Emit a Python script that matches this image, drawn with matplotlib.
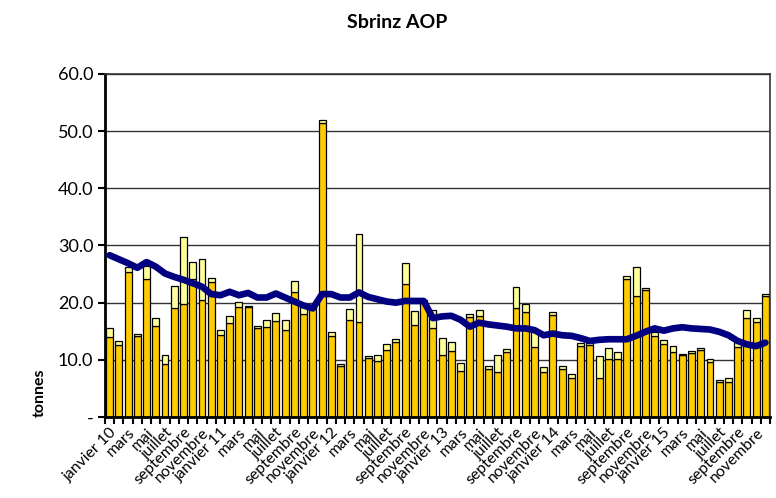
import matplotlib
matplotlib.use("Agg")
import matplotlib.pyplot as plt
import numpy as np

plt.rcParams['font.family'] = ['Lato', 'DejaVu Sans']

month_names = ["janvier", "février", "mars", "avril", "mai", "juin", "juillet",
               "août", "septembre", "octobre", "novembre", "décembre"]
years = ["10", "11", "12", "13", "14", "15"]

# orange (bottom) part of each bar
base = [14.05, 12.6, 25.3, 14.2, 24.1, 16.0, 9.2, 19.0, 19.8, 24.2, 20.4, 23.6,
        14.3, 16.4, 19.2, 19.2, 15.6, 15.8, 16.8, 15.3, 21.8, 18.0, 19.0, 51.5,
        14.1, 9.0, 17.0, 16.7, 10.3, 9.8, 11.8, 13.1, 23.3, 16.1, 20.0, 15.5,
        10.9, 11.6, 8.1, 17.5, 17.6, 8.4, 7.9, 11.3, 19.1, 18.3, 12.3, 7.9,
        17.8, 8.4, 6.9, 12.5, 12.6, 6.8, 10.1, 10.1, 24.1, 21.2, 22.3, 14.2,
        12.8, 11.4, 10.9, 11.2, 11.7, 9.7, 6.1, 6.1, 12.2, 17.3, 16.7, 21.2]
# total bar height
total = [15.6, 13.3, 26.2, 14.5, 26.4, 17.3, 10.8, 22.9, 31.5, 27.2, 27.7, 24.3,
         15.3, 17.7, 20.1, 19.5, 16.0, 17.0, 18.2, 17.0, 23.8, 19.3, 19.5, 52.0,
         14.9, 9.3, 18.9, 32.0, 10.7, 10.9, 12.8, 13.6, 27.0, 18.6, 20.5, 18.8,
         13.9, 13.2, 9.4, 18.1, 18.8, 9.0, 10.8, 11.9, 22.8, 19.8, 14.8, 8.7,
         18.3, 8.9, 7.6, 13.0, 12.9, 10.7, 12.0, 11.3, 24.7, 26.2, 22.6, 14.9,
         13.5, 12.5, 11.1, 11.5, 12.0, 10.2, 6.4, 6.8, 13.2, 18.8, 17.3, 21.6]
# moving average line
avg = [28.3, 27.6, 26.9, 26.1, 27.1, 26.3, 25.1, 24.5, 24.0, 23.4, 22.8, 21.5,
       21.3, 21.9, 21.3, 21.7, 20.9, 20.9, 21.6, 20.9, 20.2, 19.5, 19.0, 21.5,
       21.5, 20.9, 20.9, 21.8, 21.0, 20.6, 20.2, 20.0, 20.3, 20.3, 20.3, 17.3,
       17.6, 17.7, 17.0, 15.8, 16.5, 16.2, 16.0, 15.8, 15.5, 15.5, 15.2, 14.3,
       14.6, 14.3, 14.2, 13.8, 13.3, 13.5, 13.6, 13.6, 13.6, 14.2, 14.9, 15.5,
       15.1, 15.5, 15.7, 15.5, 15.4, 15.3, 14.9, 14.3, 13.3, 12.7, 12.4, 13.0]

labels = []
for y in years:
    for i, m in enumerate(month_names):
        labels.append(f"{m} {y}" if i == 0 else m)

base = np.array(base)
total = np.array(total)
top = total - base
x = np.arange(len(base))

fig = plt.figure(figsize=(7.76, 4.98), dpi=100)
ax = fig.add_axes([105/776, 1 - 417/498, 665/776, 343/498])

ax.bar(x, base, width=0.75, color="#FFCC00", edgecolor="black", linewidth=0.9, zorder=2)
ax.bar(x, top, bottom=base, width=0.75, color="#FFFF99", edgecolor="black", linewidth=0.9, zorder=2)
ax.plot(x, avg, color="#000080", linewidth=4.8, zorder=3, solid_capstyle="round")

ax.set_xlim(-0.5, len(x) - 0.5)
ax.set_ylim(0, 60)
ax.set_yticks(np.arange(0, 61, 10))
ax.set_yticklabels(["-"] + [f"{v:.1f}" for v in range(10, 61, 10)], fontsize=13)
ax.yaxis.grid(True, color="#333333", linewidth=1.0, zorder=0)
ax.set_axisbelow(True)

ax.set_xticks(x[::2])
ax.set_xticklabels(labels[::2], rotation=45, ha="right", va="top",
                   rotation_mode="anchor", fontsize=11.3)
ax.tick_params(axis="x", which="major", length=0, pad=6)
ax.set_xticks(np.arange(-0.5, len(x), 1), minor=True)
ax.tick_params(axis="x", which="minor", length=5, width=1.5, direction="out")
ax.tick_params(axis="y", length=5, width=1.5, direction="out")

for s in ["left", "bottom"]:
    ax.spines[s].set_linewidth(2)
    ax.spines[s].set_color("black")
for s in ["top", "right"]:
    ax.spines[s].set_linewidth(1.2)
    ax.spines[s].set_color("#333333")

ax.set_ylabel("tonnes", fontsize=11.5, fontweight="bold")
ax.yaxis.set_label_coords(-0.088, 0.07)

fig.text(397/776, 1 - 22/498, "Sbrinz AOP", ha="center", va="center",
         fontsize=14, fontweight="bold")

fig.savefig("out.png", dpi=100)
